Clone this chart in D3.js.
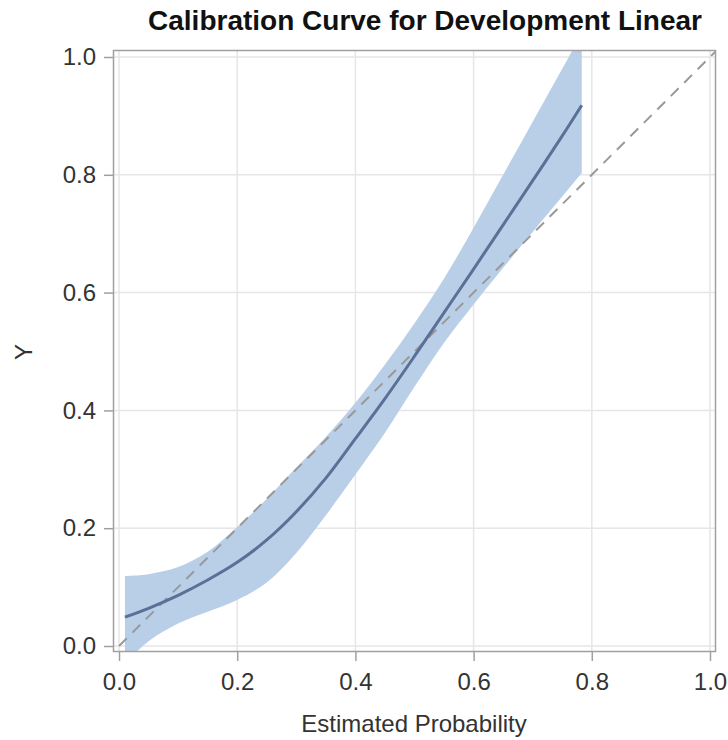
<!DOCTYPE html>
<html>
<head>
<meta charset="utf-8">
<script src="https://cdn.jsdelivr.net/npm/d3@7"></script>
<style>
  body { margin: 0; background: #fff; }
  svg text { font-family: "Liberation Sans", Arial, sans-serif; fill: #333; }
</style>
</head>
<body>
<div id="chart"></div>
<script>
// data
var xs    = [0.01, 0.05, 0.10, 0.15, 0.20, 0.25, 0.30, 0.35, 0.40, 0.45, 0.50, 0.55, 0.60, 0.65, 0.70, 0.75, 0.783];
var fit   = [0.049, 0.064, 0.086, 0.112, 0.142, 0.180, 0.228, 0.285, 0.352, 0.420, 0.492, 0.566, 0.640, 0.715, 0.790, 0.866, 0.918];
var upper = [0.119, 0.122, 0.134, 0.160, 0.202, 0.250, 0.303, 0.355, 0.413, 0.478, 0.548, 0.624, 0.710, 0.800, 0.890, 0.980, 1.040];
var lower = [-0.030, 0.008, 0.038, 0.058, 0.078, 0.108, 0.158, 0.222, 0.291, 0.362, 0.440, 0.515, 0.580, 0.642, 0.703, 0.763, 0.803];
var ticks = [0.0, 0.2, 0.4, 0.6, 0.8, 1.0];
var diag  = [0, 1];

var width = 728, height = 740;
// frame of the plot area
var frame = { left: 113, right: 716, top: 50, bottom: 652 };

var x = d3.scaleLinear().domain([0, 1]).range([119, 710]);
var y = d3.scaleLinear().domain([0, 1]).range([646, 57]);

var svg = d3.select('#chart').append('svg')
  .attr('width', width)
  .attr('height', height);

svg.append('clipPath').attr('id', 'plotclip')
  .append('rect')
  .attr('x', frame.left).attr('y', frame.top)
  .attr('width', frame.right - frame.left)
  .attr('height', frame.bottom - frame.top);

// grid
var grid = svg.append('g');
grid.selectAll('.gx').data(ticks).enter().append('line')
  .attr('x1', function (d) { return x(d); }).attr('x2', function (d) { return x(d); })
  .attr('y1', frame.top).attr('y2', frame.bottom)
  .attr('stroke', '#e6e6e6').attr('stroke-width', 1.5);
grid.selectAll('.gy').data(ticks).enter().append('line')
  .attr('y1', function (d) { return y(d); }).attr('y2', function (d) { return y(d); })
  .attr('x1', frame.left).attr('x2', frame.right)
  .attr('stroke', '#e6e6e6').attr('stroke-width', 1.5);

var plot = svg.append('g').attr('clip-path', 'url(#plotclip)');

var pts = xs.map(function (d, i) {
  return { x: d, fit: fit[i], lo: lower[i], hi: upper[i] };
});

var smooth = d3.curveCatmullRom.alpha(0.5);

// confidence band
plot.append('path')
  .datum(pts)
  .attr('fill', '#b9cfe8')
  .attr('d', d3.area()
    .curve(smooth)
    .x(function (d) { return x(d.x); })
    .y0(function (d) { return y(d.lo); })
    .y1(function (d) { return y(d.hi); }));

// reference diagonal
plot.append('line')
  .attr('x1', x(diag[0])).attr('y1', y(diag[0]))
  .attr('x2', x(diag[1]) + 6).attr('y2', y(diag[1]) - 6)
  .attr('stroke', '#999').attr('stroke-width', 2)
  .attr('stroke-dasharray', '11,8');

// fitted curve
plot.append('path')
  .datum(pts)
  .attr('fill', 'none')
  .attr('stroke', '#5b7096')
  .attr('stroke-width', 3)
  .attr('d', d3.line()
    .curve(smooth)
    .x(function (d) { return x(d.x); })
    .y(function (d) { return y(d.fit); }));

// frame
svg.append('rect')
  .attr('x', frame.left + 0.5).attr('y', frame.top + 0.5)
  .attr('width', frame.right - frame.left - 1)
  .attr('height', frame.bottom - frame.top - 1)
  .attr('fill', 'none').attr('stroke', '#a0a0a0').attr('stroke-width', 1.5);

// axes
var xAxis = d3.axisBottom(x).tickValues(ticks).tickFormat(d3.format('.1f'))
  .tickSize(9).tickPadding(12);
var gx = svg.append('g').attr('transform', 'translate(0,' + frame.bottom + ')').call(xAxis);

var yAxis = d3.axisLeft(y).tickValues(ticks).tickFormat(d3.format('.1f'))
  .tickSize(9).tickPadding(8);
var gy = svg.append('g').attr('transform', 'translate(' + frame.left + ',0)').call(yAxis);

[gx, gy].forEach(function (g) {
  g.select('.domain').remove();
  g.selectAll('.tick line').attr('stroke', '#a0a0a0').attr('stroke-width', 1.5);
  g.selectAll('.tick text').attr('font-size', 24).attr('fill', '#333')
    .attr('font-family', '"Liberation Sans", Arial, sans-serif');
});

// titles
svg.append('text')
  .attr('x', 425).attr('y', 30)
  .attr('text-anchor', 'middle')
  .attr('font-size', 28).attr('font-weight', 'bold')
  .style('fill', '#111')
  .text('Calibration Curve for Development Linear');

svg.append('text')
  .attr('x', 414).attr('y', 732)
  .attr('text-anchor', 'middle')
  .attr('font-size', 24)
  .text('Estimated Probability');

svg.append('text')
  .attr('transform', 'translate(32,352) rotate(-90)')
  .attr('text-anchor', 'middle')
  .attr('font-size', 24)
  .text('Y');
</script>
</body>
</html>
